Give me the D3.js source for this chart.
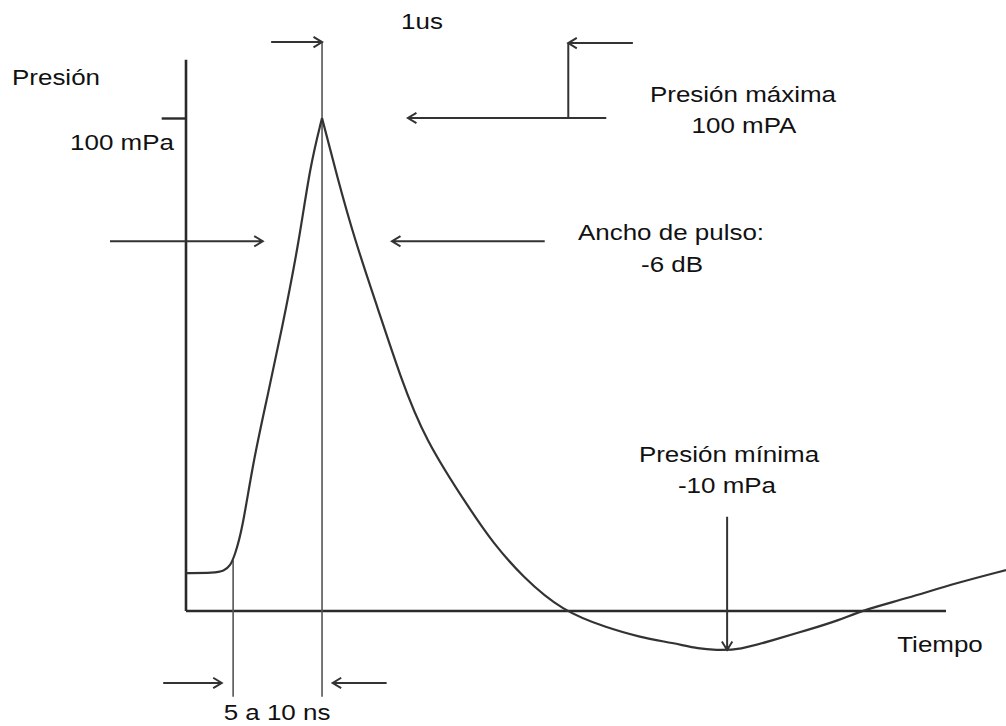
<!DOCTYPE html>
<html>
<head>
<meta charset="utf-8">
<script src="https://cdn.jsdelivr.net/npm/d3@7"></script>
<style>
  body { margin: 0; background: #fff; }
  text { font-family: "Liberation Sans", Arial, sans-serif; fill: #111; }
</style>
</head>
<body>
<div id="chart"></div>
<script>
const WIDTH = 1006;
const HEIGHT = 726;

// pulse: time (arbitrary units), pressure (mPa)
const riseTime = [0, 3.7, 5.0, 5.8, 6.4, 7.4, 8.8, 10.7, 12.6, 14.9, 16.3, 17.9];
const risePressure = [7.7, 7.7, 8.1, 9.1, 11.2, 16.4, 30.0, 43.4, 57.0, 75.1, 90.1, 100];
const decayTime = [17.9, 19.9, 22.2, 25.3, 28.2, 31.4, 37.4, 40.4, 44.3, 49.5,
  55.4, 59.7, 64.1, 67.6, 69.6, 72.9, 77.2, 81.7, 86.1, 88.7, 94.9, 101.4, 107.9];
const decayPressure = [100, 88.0, 75.3, 61.1, 47.5, 34.8, 20.5, 13.8, 6.9, 0,
  -3.4, -5.3, -6.5, -7.7, -7.9, -7.9, -5.9, -3.9, -1.8, 0, 2.6, 5.7, 8.3];

const PEAK_T = 17.9;
const FOOT_T = 6.2;
const MIN_T = 71.2;
const MIN_P = -7.9;

// annotation arrows [t1, p1, t2, p2], head at the second point
const arrows = [
  [11.2, 115.4, PEAK_T, 115.4],
  [58.8, 115.2, 50.3, 115.2],
  [55.3, 100, 29.2, 100],
  [-10, 75, 10.1, 75],
  [47.2, 75, 27.1, 75],
  [-3.0, -14.6, 4.7, -14.6],
  [26.4, -14.6, 19.3, -14.6],
  [MIN_T, 19.1, MIN_T, MIN_P],
];

const labels = [
  ['1us', 422, 29],
  ['Presión', 56, 85],
  ['100 mPa', 122, 150],
  ['Presión máxima', 743, 102],
  ['100 mPA', 744, 133],
  ['Ancho de pulso:', 671, 240],
  ['-6 dB', 672, 272],
  ['Presión mínima', 729, 462],
  ['-10 mPa', 727, 493],
  ['Tiempo', 940, 652],
  ['5 a 10 ns', 277, 720],
];

const svg = d3.select('#chart').append('svg')
  .attr('width', WIDTH)
  .attr('height', HEIGHT);

const x = d3.scaleLinear().domain([0, 100]).range([186, 946]);
const y = d3.scaleLinear().domain([0, 100]).range([611, 118]);

// axes
svg.append('line')
  .attr('x1', x(0)).attr('x2', x(0))
  .attr('y1', y(0)).attr('y2', y(111.8))
  .attr('stroke', '#2a2a2a').attr('stroke-width', 2.6);

svg.append('line')
  .attr('x1', x(0)).attr('x2', x(100))
  .attr('y1', y(0)).attr('y2', y(0))
  .attr('stroke', '#2a2a2a').attr('stroke-width', 2.6);

const yAxis = d3.axisLeft(y).tickValues([100]).tickSize(x(0) - x(-3.2)).tickFormat('');
const yAxisG = svg.append('g').attr('transform', `translate(${x(0)},0)`).call(yAxis);
yAxisG.select('.domain').remove();
yAxisG.selectAll('.tick line').attr('stroke', '#2a2a2a').attr('stroke-width', 2.4);

// thin reference verticals
for (const [t, top] of [[PEAK_T, 115.4], [FOOT_T, 10.3]]) {
  svg.append('line')
    .attr('x1', x(t)).attr('x2', x(t))
    .attr('y1', y(top)).attr('y2', y(-17.4))
    .attr('stroke', '#555').attr('stroke-width', 1.6);
}

// pulse curve
const line = d3.line()
  .x(d => x(d[0]))
  .y(d => y(d[1]))
  .curve(d3.curveBasis);

for (const [ts, ps] of [[riseTime, risePressure], [decayTime, decayPressure]]) {
  svg.append('path')
    .datum(ts.map((t, i) => [t, ps[i]]))
    .attr('fill', 'none')
    .attr('stroke', '#333')
    .attr('stroke-width', 2.2)
    .attr('stroke-linejoin', 'round')
    .attr('d', line);
}

// arrows
function arrowPath(x1, y1, x2, y2) {
  const a = Math.atan2(y2 - y1, x2 - x1);
  const len = 10, spread = 0.55;
  const hx1 = x2 - len * Math.cos(a - spread), hy1 = y2 - len * Math.sin(a - spread);
  const hx2 = x2 - len * Math.cos(a + spread), hy2 = y2 - len * Math.sin(a + spread);
  return `M${x1},${y1}L${x2},${y2}M${hx1},${hy1}L${x2},${y2}L${hx2},${hy2}`;
}

svg.selectAll('.arrow').data(arrows).enter().append('path')
  .attr('class', 'arrow')
  .attr('fill', 'none')
  .attr('stroke', '#333')
  .attr('stroke-width', 2)
  .attr('d', d => arrowPath(x(d[0]), y(d[1]), x(d[2]), y(d[3])));

// the bracket joining the two upper right arrows
svg.append('line')
  .attr('x1', x(50.3)).attr('x2', x(50.3))
  .attr('y1', y(115.2)).attr('y2', y(100))
  .attr('stroke', '#333').attr('stroke-width', 2);

// labels
svg.selectAll('.label').data(labels).enter().append('text')
  .attr('class', 'label')
  .attr('transform', d => `translate(${d[1]},${d[2]}) scale(1.18,1)`)
  .attr('text-anchor', 'middle')
  .attr('font-size', 22)
  .text(d => d[0]);
</script>
</body>
</html>
